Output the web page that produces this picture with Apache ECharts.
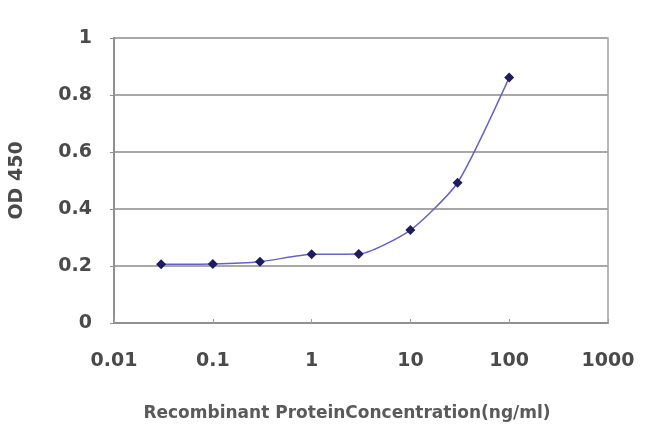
<!DOCTYPE html>
<html><head><meta charset="utf-8">
<script src="https://cdn.jsdelivr.net/npm/echarts@6/dist/echarts.min.js"></script>
<style>html,body{margin:0;padding:0;background:#fff}#c{width:650px;height:434px}</style>
</head><body><div id="c"></div>
<script>
const concentrations = [0.03, 0.1, 0.3, 1, 3, 10, 30, 100];
const od450 = [0.206, 0.207, 0.215, 0.241, 0.242, 0.326, 0.492, 0.861];
const xTickLabels = ['0.01', '0.1', '1', '10', '100', '1000'];
const yTickLabels = ['0', '0.2', '0.4', '0.6', '0.8', '1'];

const chart = echarts.init(document.getElementById('c'));
const font = 'DejaVu Sans, Arial, sans-serif';
chart.setOption({
  animation: false,
  backgroundColor: '#fff',
  grid: {left: 113, right: 42, top: 38, bottom: 111, show: true, borderColor: '#a0a0a0', borderWidth: 1.5},
  xAxis: {
    type: 'log', logBase: 10, min: 0.01, max: 1000,
    name: 'Recombinant ProteinConcentration(ng/ml)',
    nameLocation: 'middle', nameGap: 82,
    nameTextStyle: {fontFamily: font, fontSize: 17, fontWeight: 'bold', color: '#5a5a5a', padding: [0, 28, 0, 0]},
    axisLine: {show: true, lineStyle: {color: '#909090', width: 2}},
    axisTick: {show: true, inside: true, length: 4, lineStyle: {color: '#a0a0a0'}},
    minorTick: {show: false},
    splitLine: {show: false},
    axisLabel: {fontFamily: font, fontSize: 19, fontWeight: 'bold', color: '#4a4a4a', margin: 29,
      formatter: v => { const i = Math.round(Math.log10(v)) + 2; return xTickLabels[i] ?? String(v); }}
  },
  yAxis: {
    type: 'value', min: 0, max: 1, interval: 0.2,
    name: 'OD 450', nameLocation: 'middle', nameGap: 87,
    nameTextStyle: {fontFamily: font, fontSize: 19, fontWeight: 'bold', color: '#4a4a4a'},
    axisLine: {show: true, lineStyle: {color: '#909090', width: 2}},
    axisTick: {show: true, length: 4, lineStyle: {color: '#909090'}},
    splitLine: {show: true, lineStyle: {color: '#a8a8a8', width: 2}},
    axisLabel: {fontFamily: font, fontSize: 19, fontWeight: 'bold', color: '#4a4a4a', margin: 22,
      formatter: v => yTickLabels[Math.round(v * 5)]}
  },
  series: [{
    type: 'line',
    data: concentrations.map((c, i) => [c, od450[i]]),
    smooth: 0.2,
    symbol: 'diamond', symbolSize: 10,
    itemStyle: {color: '#1c1c5e'},
    lineStyle: {color: '#6464c8', width: 1.5}
  }]
});
</script></body></html>
